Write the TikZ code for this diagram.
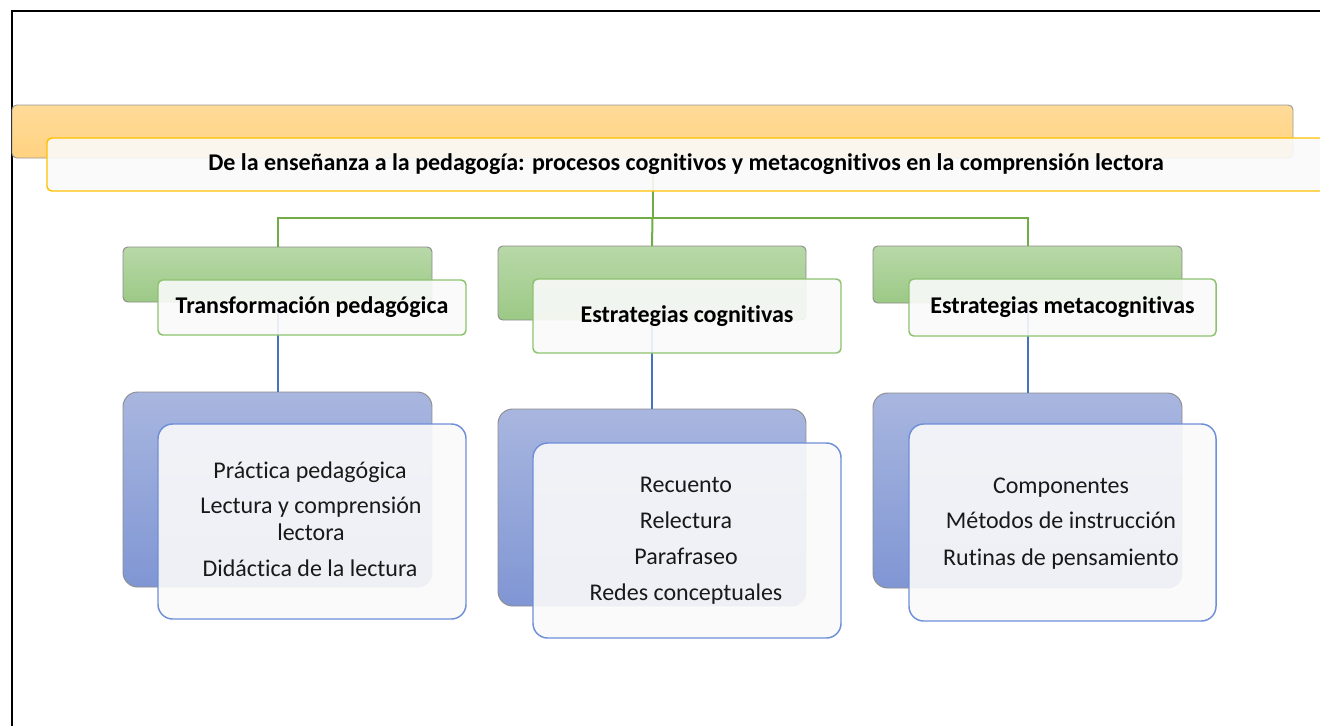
\documentclass[tikz,border=0pt]{standalone}
\usepackage{fontspec}
\setmainfont{Carlito}[Ligatures=NoCommon]
\definecolor{gline}{RGB}{112,173,71}
\definecolor{bline}{RGB}{68,114,196}
\definecolor{gfront}{RGB}{141,194,111}
\definecolor{bfront}{RGB}{111,143,216}
\definecolor{ofront}{RGB}{255,192,0}
\definecolor{otop}{RGB}{255,219,153}
\definecolor{obot}{RGB}{255,210,128}
\definecolor{gtop}{RGB}{184,216,168}
\definecolor{gbot}{RGB}{156,201,134}
\definecolor{btop}{RGB}{168,182,223}
\definecolor{bbot}{RGB}{128,150,212}
\definecolor{txt}{RGB}{25,25,25}
\tikzset{
  box/.style={anchor=north west, inner sep=0pt, outer sep=0pt},
  oback/.style={box, rounded corners=3.5pt, draw=black!40, line width=0.7pt, top color=otop, bottom color=obot},
  gback/.style={box, rounded corners=3.5pt, draw=black!45, line width=0.7pt, top color=gtop, bottom color=gbot},
  bback/.style={box, rounded corners=11pt, draw=black!45, line width=0.7pt, top color=btop, bottom color=bbot},
  ofrontbox/.style={box, rounded corners=3.5pt, draw=ofront, line width=1.1pt, fill=white!98!black, fill opacity=0.9, text opacity=1},
  gfrontbox/.style={box, rounded corners=3.5pt, draw=gfront, line width=1.1pt, fill=white!98!black, fill opacity=0.9, text opacity=1},
  bfrontbox/.style={box, rounded corners=11pt, draw=bfront, line width=1.1pt, fill=white!98!black, fill opacity=0.9},
  headtxt/.style={font=\fontsize{18}{22}\selectfont\bfseries, text=black},
  item/.style={anchor=base, inner sep=0pt, font=\fontsize{18}{22}\selectfont, text=txt},
  gconn/.style={draw=gline, line width=1.5pt},
  bconn/.style={draw=bline, line width=1.5pt},
}
\begin{document}
\begin{tikzpicture}[x=0.75pt, y=-0.75pt]
\useasboundingbox (0,0) rectangle (1320,725);
% frame
\draw[line width=1.5pt, black] (11.5,745) -- (11.5,11) -- (1345,11);
% back boxes
\node[oback, minimum width=1281*0.75pt, minimum height=53*0.75pt] (ob) at (12,105) {};
\node[gback, minimum width=309*0.75pt, minimum height=55*0.75pt] (g1b) at (123,247) {};
\node[gback, minimum width=308*0.75pt, minimum height=74*0.75pt] (g2b) at (498,246) {};
\node[gback, minimum width=309*0.75pt, minimum height=57*0.75pt] (g3b) at (873,246) {};
\node[bback, minimum width=309*0.75pt, minimum height=195*0.75pt] (b1b) at (123,392) {};
\node[bback, minimum width=308*0.75pt, minimum height=197*0.75pt] (b2b) at (498,409) {};
\node[bback, minimum width=309*0.75pt, minimum height=195*0.75pt] (b3b) at (873,393) {};
% connectors
\coordinate (hub) at (652,218);
\draw[gconn] (ob.south) -- (ob.south |- hub) -| (g1b.north);
\draw[gconn] (ob.south |- hub) -| (g3b.north);
\draw[gconn] (ob.south |- hub) -- (g2b.north);
\draw[bconn] (g1b.south) -- (b1b.north);
\draw[bconn] (g2b.south) -- (b2b.north);
\draw[bconn] (g3b.south) -- (b3b.north);
% front boxes
\node[ofrontbox, headtxt, minimum width=1278*0.75pt, minimum height=53*0.75pt] (title) at (47,138) {De la enseñanza a la pedagogía: procesos cognitivos y metacognitivos en la comprensión lectora};
\node[gfrontbox, headtxt, minimum width=308*0.75pt, minimum height=55*0.75pt] (g1f) at (158,280) {Transformación pedagógica};
\node[gfrontbox, headtxt, minimum width=308*0.75pt, minimum height=74*0.75pt] (g2f) at (533,279) {Estrategias cognitivas};
\node[gfrontbox, headtxt, minimum width=307*0.75pt, minimum height=57*0.75pt] (g3f) at (909,279) {Estrategias metacognitivas};
\node[bfrontbox, minimum width=308*0.75pt, minimum height=195*0.75pt] (b1f) at (158,424) {};
\node[bfrontbox, minimum width=308*0.75pt, minimum height=195*0.75pt] (b2f) at (533,443) {};
\node[bfrontbox, minimum width=307*0.75pt, minimum height=197*0.75pt] (b3f) at (909,424) {};
% items
\node[item] (t11) at (310,478) {Práctica pedagógica};
\node[item] (t12) at (311,513) {Lectura y comprensión};
\node[item] (t13) at (311,540) {lectora};
\node[item] (t14) at (310,576) {Didáctica de la lectura};
\node[item] (t21) at (686,492) {Recuento};
\node[item] (t22) at (686,528) {Relectura};
\node[item] (t23) at (686,564) {Parafraseo};
\node[item] (t24) at (686,600) {Redes conceptuales};
\node[item] (t31) at (1061,493) {Componentes};
\node[item] (t32) at (1061,528) {Métodos de instrucción};
\node[item] (t33) at (1061,565) {Rutinas de pensamiento};
\end{tikzpicture}
\end{document}
